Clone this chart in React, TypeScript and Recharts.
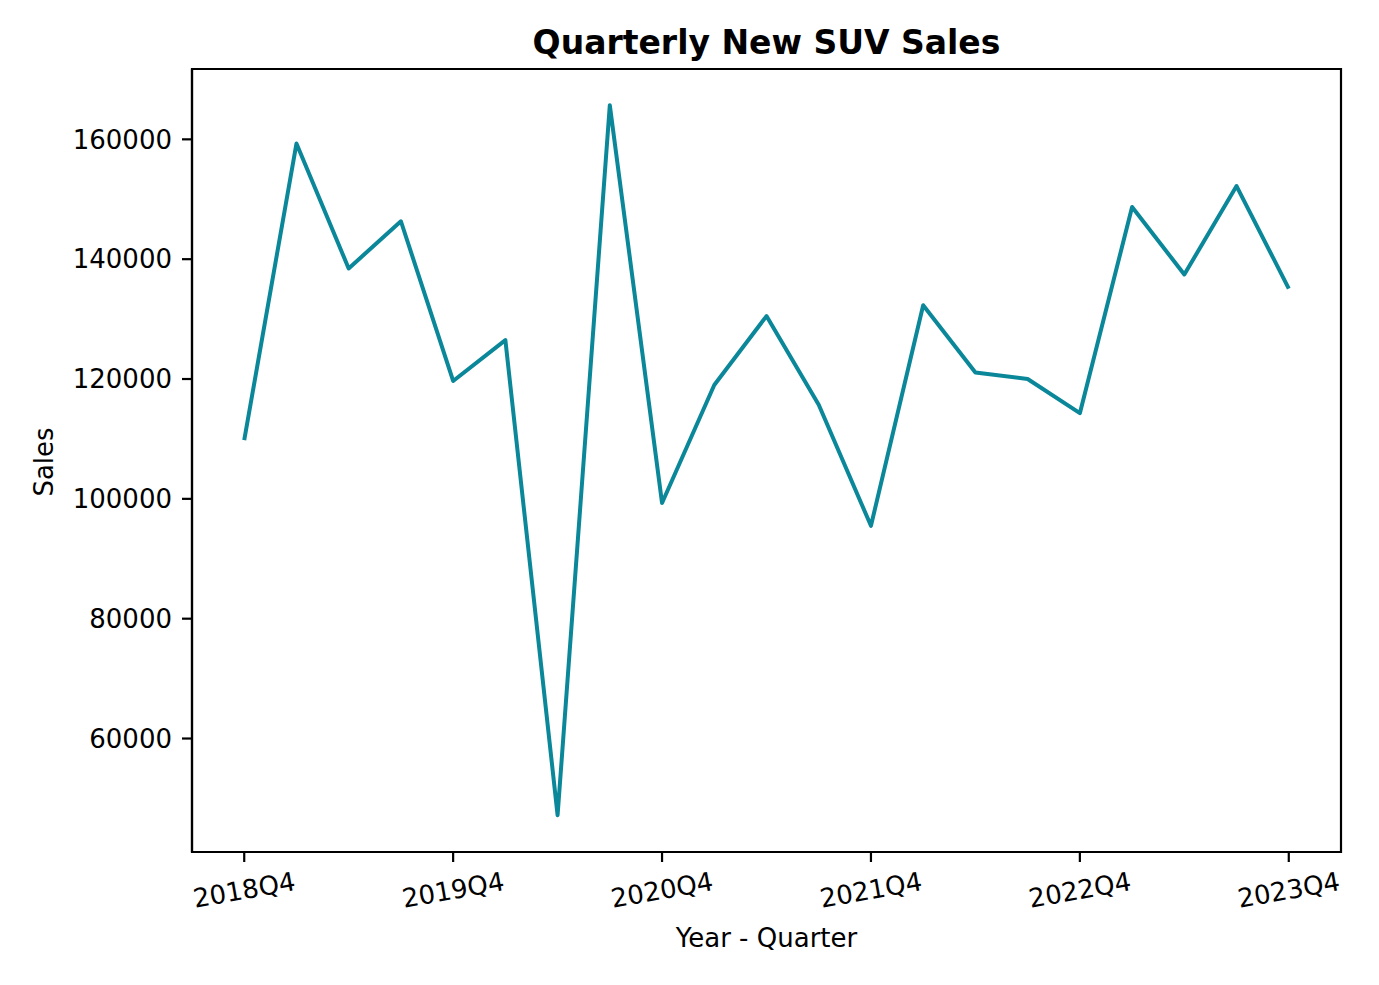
import { LineChart, Line, XAxis, YAxis, ReferenceArea } from 'recharts';

const quarters = [
  '2018Q4', '2019Q1', '2019Q2', '2019Q3', '2019Q4', '2020Q1', '2020Q2',
  '2020Q3', '2020Q4', '2021Q1', '2021Q2', '2021Q3', '2021Q4', '2022Q1',
  '2022Q2', '2022Q3', '2022Q4', '2023Q1', '2023Q2', '2023Q3', '2023Q4',
];

const sales = [
  109800, 159300, 138450, 146330, 119670, 126500, 47200,
  165700, 99300, 119000, 130500, 115700, 95500, 132300,
  121100, 120000, 114300, 148700, 137450, 152200, 135100,
];

const xTicks = [0, 4, 8, 12, 16, 20];
const yTicks = [60000, 80000, 100000, 120000, 140000, 160000];

const X_MIN = -1;
const X_MAX = 21;
const Y_MIN = 41060;
const Y_MAX = 171740;

const FONT = "'DejaVu Sans', sans-serif";
const LINE_COLOR = '#0b879a';

const chartData = sales.map((value, i) => ({ idx: i, quarter: quarters[i], sales: value }));

function RotatedTick(props: any) {
  const { x, y, payload } = props;
  return (
    <g transform={`translate(${x},${y + 26}) rotate(-10)`}>
      <text
        x={0}
        y={0}
        textAnchor="middle"
        dominantBaseline="central"
        fontSize={26}
        fill="#000"
        fontFamily={FONT}
      >
        {quarters[payload.value]}
      </text>
    </g>
  );
}

export default function App() {
  return (
    <div style={{ position: 'absolute', left: 0, top: 0, width: 1379, height: 985, background: '#fff' }}>
      <div
        style={{
          position: 'absolute',
          left: 0,
          width: 1533,
          top: 24,
          textAlign: 'center',
          fontFamily: FONT,
          fontWeight: 'bold',
          fontSize: 33,
          lineHeight: '38px',
          color: '#000',
        }}
      >
        Quarterly New SUV Sales
      </div>
      <LineChart
        width={1379}
        height={985}
        data={chartData}
        margin={{ top: 69, right: 38, bottom: 0, left: 0 }}
      >
        <XAxis
          dataKey="idx"
          type="number"
          domain={[X_MIN, X_MAX]}
          allowDataOverflow
          ticks={xTicks}
          tick={<RotatedTick />}
          tickSize={10}
          axisLine={{ stroke: '#000', strokeWidth: 2.2 }}
          tickLine={{ stroke: '#000', strokeWidth: 2.2 }}
          height={133}
          label={() => (
            <text
              x={766.5}
              y={938}
              textAnchor="middle"
              dominantBaseline="central"
              fontSize={26}
              fill="#000"
              fontFamily={FONT}
            >
              Year - Quarter
            </text>
          )}
        />
        <YAxis
          type="number"
          domain={[Y_MIN, Y_MAX]}
          allowDataOverflow
          ticks={yTicks}
          width={192}
          tickSize={10}
          tickMargin={10}
          tick={{ fontSize: 26, fill: '#000', fontFamily: FONT }}
          axisLine={{ stroke: '#000', strokeWidth: 2.2 }}
          tickLine={{ stroke: '#000', strokeWidth: 2.2 }}
          label={() => (
            <text
              x={44}
              y={462}
              transform="rotate(-90 44 462)"
              textAnchor="middle"
              dominantBaseline="central"
              fontSize={26}
              fill="#000"
              fontFamily={FONT}
            >
              Sales
            </text>
          )}
        />
        <ReferenceArea
          x1={X_MIN}
          x2={X_MAX}
          y1={Y_MIN}
          y2={Y_MAX}
          fill="none"
          fillOpacity={0}
          stroke="#000"
          strokeWidth={2.2}
          ifOverflow="visible"
        />
        <Line
          type="linear"
          dataKey="sales"
          stroke={LINE_COLOR}
          strokeWidth={4}
          strokeLinejoin="round"
          dot={false}
          activeDot={false}
          isAnimationActive={false}
        />
      </LineChart>
    </div>
  );
}
